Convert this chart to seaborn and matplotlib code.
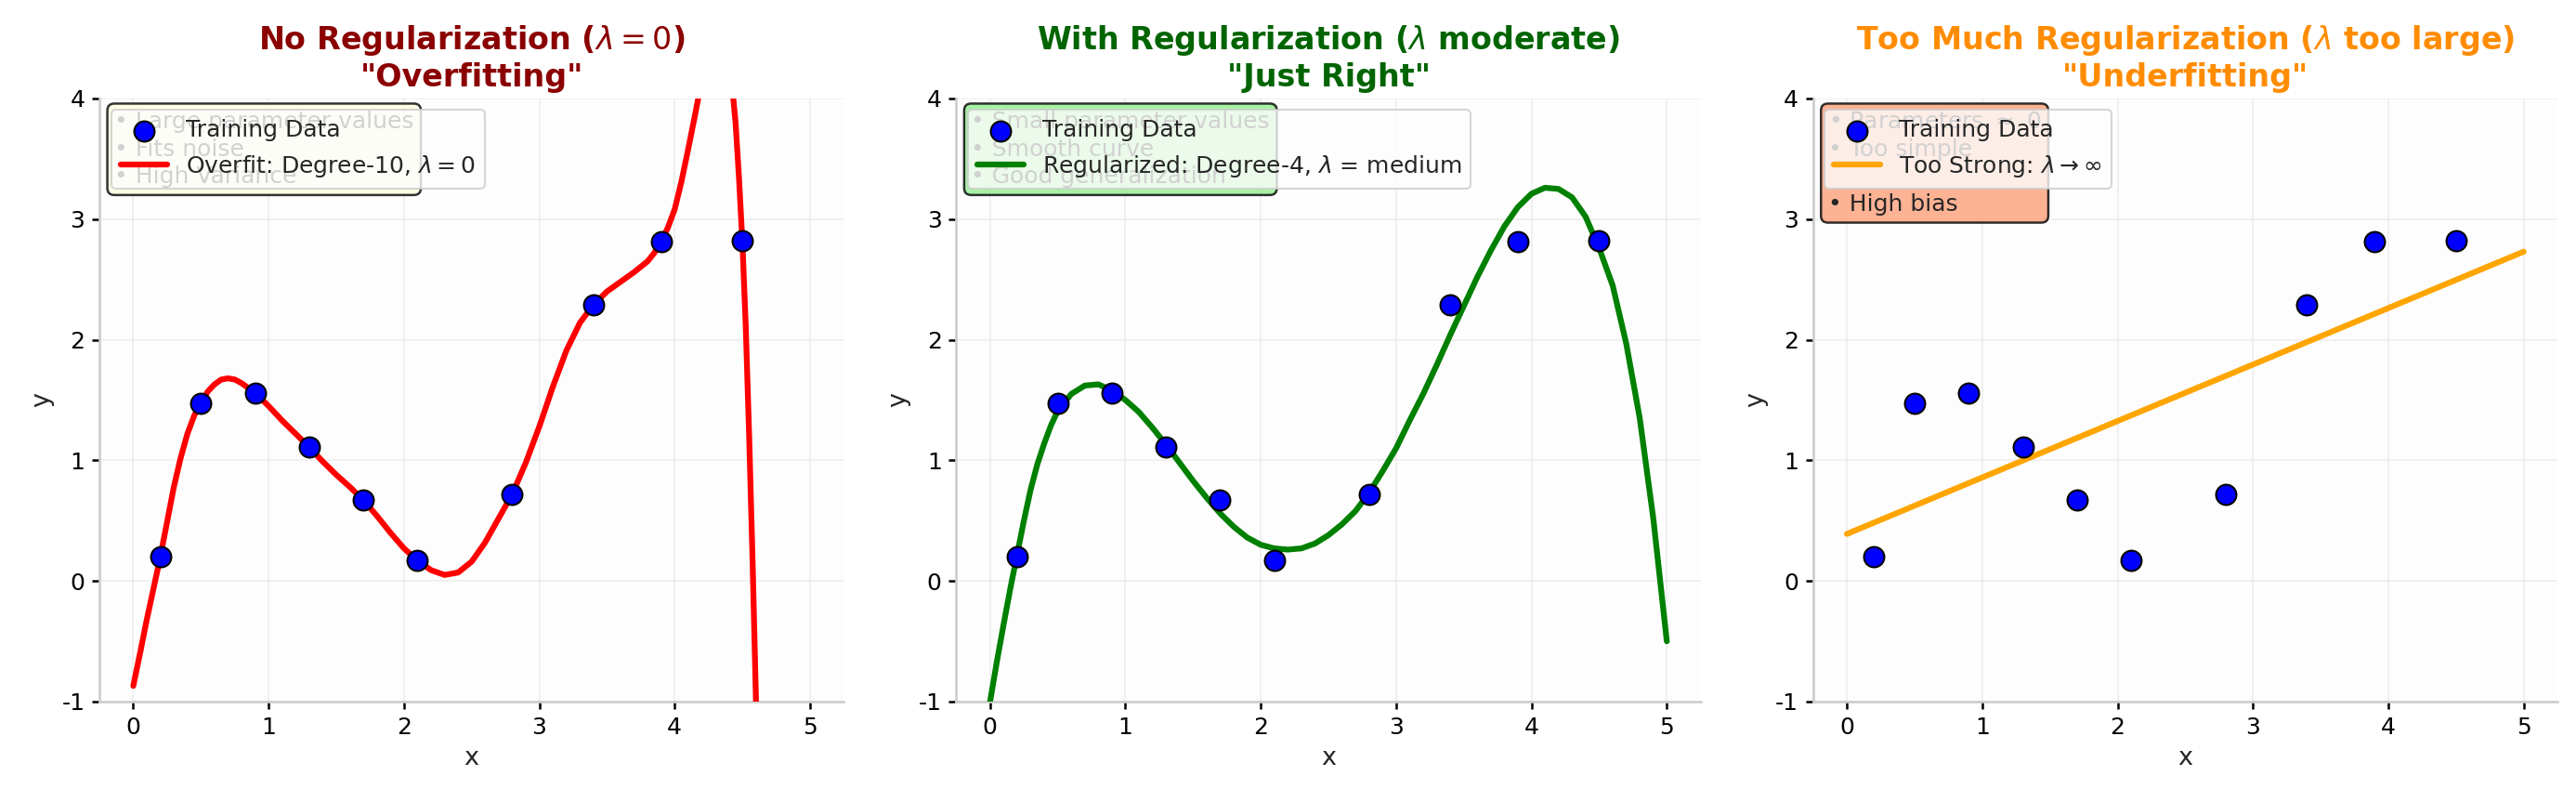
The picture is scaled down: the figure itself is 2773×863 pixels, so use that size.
import numpy as np
import pandas as pd
import matplotlib
matplotlib.use("Agg")
import matplotlib.pyplot as plt
import seaborn as sns

# ---- data ----
x_train = [0.2, 0.5, 0.9, 1.3, 1.7, 2.1, 2.8, 3.4, 3.9, 4.5]
y_train = [0.20, 1.47, 1.56, 1.11, 0.67, 0.17, 0.72, 2.29, 2.81, 2.82]

overfit_x = [0.00, 0.05, 0.10, 0.15, 0.20, 0.25, 0.30, 0.35, 0.40, 0.45, 0.50,
             0.55, 0.60, 0.65, 0.70, 0.75, 0.80, 0.85, 0.90, 1.00, 1.10, 1.20,
             1.30, 1.40, 1.50, 1.60, 1.70, 1.80, 1.90, 2.00, 2.10, 2.20, 2.30,
             2.40, 2.50, 2.60, 2.70, 2.80, 2.90, 3.00, 3.10, 3.20, 3.30, 3.40,
             3.50, 3.60, 3.70, 3.80, 3.85, 3.90, 3.95, 4.00, 4.05, 4.10, 4.15, 4.20,
             4.25, 4.30, 4.35, 4.375, 4.40, 4.425, 4.45, 4.475, 4.50, 4.525,
             4.55, 4.575, 4.60, 4.625, 4.65]
overfit_y = [-0.87, -0.60, -0.32, -0.06, 0.20, 0.49, 0.78, 1.02, 1.22, 1.37, 1.48,
             1.57, 1.63, 1.67, 1.68, 1.67, 1.64, 1.60, 1.56, 1.45, 1.33, 1.22,
             1.11, 0.99, 0.88, 0.78, 0.67, 0.54, 0.40, 0.27, 0.17, 0.09, 0.05,
             0.07, 0.16, 0.32, 0.52, 0.72, 0.98, 1.28, 1.61, 1.91, 2.14, 2.29,
             2.40, 2.48, 2.56, 2.65, 2.72, 2.81, 2.93, 3.08, 3.31, 3.58, 3.86, 4.15,
             4.62, 4.92, 4.90, 4.72, 4.45, 4.10, 3.80, 3.35, 2.82, 2.12,
             1.22, 0.20, -0.95, -2.30, -3.80]

reg_x = [0.0, 0.05, 0.1, 0.15, 0.2, 0.25, 0.3, 0.35, 0.4, 0.45, 0.5, 0.6, 0.7,
         0.8, 0.9, 1.0, 1.1, 1.2, 1.3, 1.4, 1.5, 1.6, 1.7, 1.8, 1.9, 2.0, 2.1,
         2.2, 2.3, 2.4, 2.5, 2.6, 2.7, 2.8, 2.9, 3.0, 3.1, 3.2, 3.3, 3.4, 3.5,
         3.6, 3.7, 3.8, 3.9, 4.0, 4.1, 4.2, 4.3, 4.4, 4.5, 4.6, 4.7, 4.8, 4.9, 5.0]
reg_y = [-1.00, -0.67, -0.36, -0.06, 0.22, 0.50, 0.76, 0.97, 1.14, 1.29, 1.41,
         1.55, 1.62, 1.63, 1.58, 1.50, 1.40, 1.27, 1.13, 0.98, 0.83, 0.69,
         0.56, 0.45, 0.36, 0.30, 0.27, 0.26, 0.27, 0.31, 0.38, 0.47, 0.58,
         0.73, 0.91, 1.10, 1.33, 1.55, 1.79, 2.04, 2.28, 2.52, 2.74, 2.94,
         3.10, 3.21, 3.26, 3.25, 3.18, 3.02, 2.76, 2.45, 1.97, 1.35, 0.52, -0.50]

under_x = [0.0, 5.0]
under_y = [0.39, 2.73]

titles = [
    'No Regularization ($\\lambda = 0$)\n"Overfitting"',
    'With Regularization ($\\lambda$ moderate)\n"Just Right"',
    'Too Much Regularization ($\\lambda$ too large)\n"Underfitting"',
]
title_colors = ["darkred", "darkgreen", "darkorange"]
curve_labels = [
    "Overfit: Degree-10, $\\lambda = 0$",
    "Regularized: Degree-4, $\\lambda$ = medium",
    "Too Strong: $\\lambda \\rightarrow \\infty$",
]
curve_colors = ["red", "green", "orange"]
notes = [
    "• Large parameter values\n• Fits noise\n• High Variance",
    "• Small parameter values\n• Smooth curve\n• Good generalization",
    "• Parameters $\\approx$ 0\n• Too simple\n\n• High bias",
]
note_colors = ["lightyellow", "lightgreen", "lightsalmon"]
x_ticks = [0, 1, 2, 3, 4, 5]
y_ticks = [-1, 0, 1, 2, 3, 4]

# ---- style ----
sns.set_style("whitegrid")
plt.rcParams["font.family"] = ["DejaVu Sans"]
plt.rcParams["axes.unicode_minus"] = False
plt.rcParams["axes.edgecolor"] = ".8"
plt.rcParams["axes.linewidth"] = 1.25
plt.rcParams["axes.facecolor"] = "#fdfdfd"
plt.rcParams["xtick.bottom"] = True
plt.rcParams["ytick.left"] = True
plt.rcParams["xtick.color"] = "black"
plt.rcParams["ytick.color"] = "black"

fig, axes = plt.subplots(1, 3, figsize=(2773 / 150, 863 / 150), dpi=150)
fig.subplots_adjust(left=0.0386, right=0.9928, top=0.8772, bottom=0.1252, wspace=0.151)

curves = [(overfit_x, overfit_y), (reg_x, reg_y), (under_x, under_y)]
train_df = pd.DataFrame({"x": x_train, "y": y_train})

for i, ax in enumerate(axes):
    sns.scatterplot(data=train_df, x="x", y="y", ax=ax, color="blue", s=110,
                    edgecolor="black", linewidth=1, zorder=5, label="Training Data")
    cx, cy = curves[i]
    sns.lineplot(x=cx, y=cy, ax=ax, color=curve_colors[i], linewidth=3,
                 label=curve_labels[i], sort=False, zorder=3)
    ax.set_xlim(-0.25, 5.25)
    ax.set_ylim(-1, 4)
    ax.set_xticks(x_ticks)
    ax.set_yticks(y_ticks)
    ax.set_yticklabels([str(v) for v in y_ticks])
    ax.tick_params(labelsize=12, length=4, width=1.2, color="black")
    ax.set_xlabel("x", fontsize=13)
    ax.set_ylabel("y", fontsize=13)
    ax.set_title(titles[i], fontsize=16, fontweight="bold", color=title_colors[i])
    ax.grid(True, color=".8", alpha=0.3)
    ax.text(0.02, 0.98, notes[i], transform=ax.transAxes, fontsize=12, va="top",
            linespacing=1.3,
            bbox=dict(boxstyle="round", facecolor=note_colors[i], edgecolor="black",
                      linewidth=1.2, alpha=0.8))
    ax.legend(loc="upper left", fontsize=12)
    sns.despine(ax=ax)

fig.savefig("out.png", dpi=150)
